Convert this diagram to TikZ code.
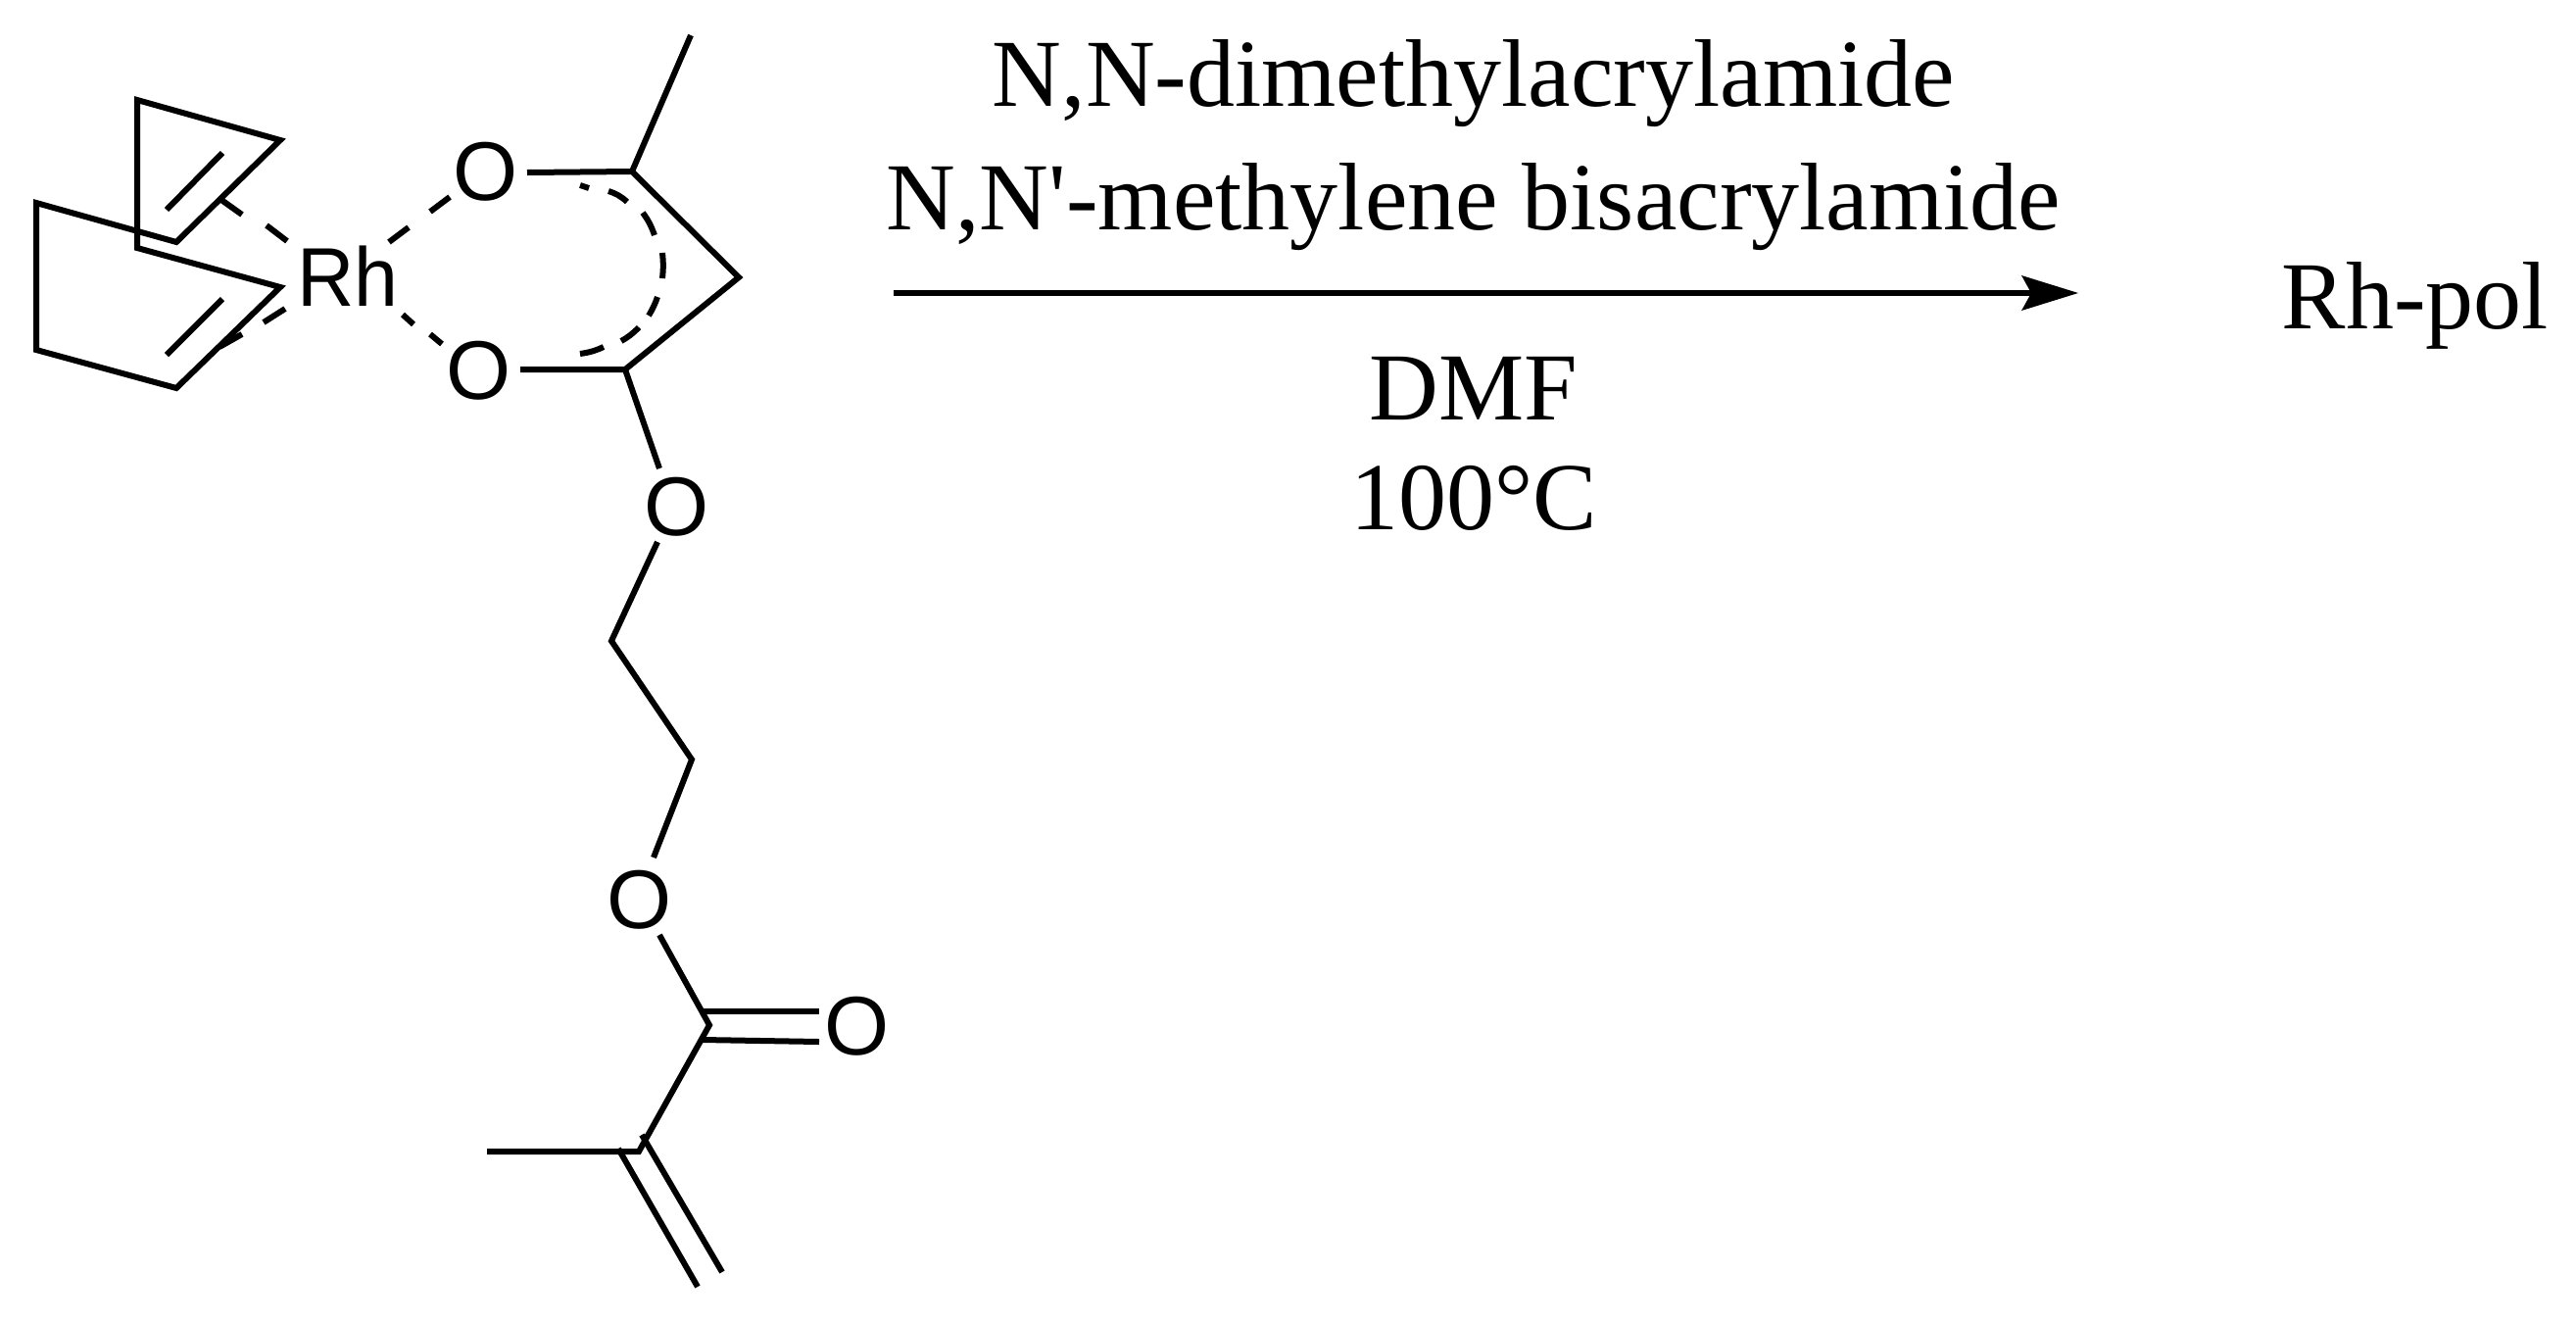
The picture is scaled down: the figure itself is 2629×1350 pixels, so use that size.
\documentclass[tikz,border=0pt]{standalone}
\usepackage{fontspec}
\setmainfont{Liberation Serif}
\newfontfamily\plainserif{Liberation Serif}
\newfontfamily\atomfont{Liberation Sans}
\tikzset{
  x=1pt,y=-1pt,
  bond/.style={line width=6pt,line cap=butt,line join=miter},
  atom/.style={inner sep=0pt,outer sep=0pt,font=\atomfont\fontsize{85}{85}\selectfont},
  label/.style={inner sep=0pt,outer sep=0pt,anchor=base,font=\fontsize{98}{98}\selectfont},
}
\begin{document}
\begin{tikzpicture}
\useasboundingbox (0,0) rectangle (2629,1350);
% atoms
\node[atom,xscale=.95] (Rh) at (355,282) {Rh};
\node[atom] (O1) at (496,175) {O};
\node[atom] (O2) at (489,378) {O};
\node[atom] (O3) at (691,517) {O};
\node[atom] (O4) at (653,918) {O};
\node[atom] (O5) at (875,1047) {O};
% labels
\node[label] (t1) at (1504,108) {N,N-dimethylacrylamide};
\node[label] (t2) at (1504,234) {{\plainserif N,N'-methylene bisacrylamide}};
\node[label] (t3) at (1504,428) {DMF};
\node[label] (t4) at (1504,540) {100°C};
\node[label] (t5) at (2465,335) {Rh-pol};
% rings
\coordinate (a1) at (140,102); \coordinate (a2) at (286,143); \coordinate (a3) at (180,247);
\coordinate (a4) at (37,207); \coordinate (a5) at (37,357); \coordinate (a6) at (180,396);
\coordinate (a7) at (286,293); \coordinate (a8) at (140,253);
\draw[bond] (a1)--(a2)--(a3)--(a4)--(a5)--(a6)--(a7)--(a8)--cycle;
\draw[bond] (227,156)--(170,214);
\draw[bond] (227,305)--(170,362);
% dashed metal bonds
\draw[bond] (226,204)--(247,219) (272,230)--(293,246);
\draw[bond] (291,315)--(269,329) (247,341)--(224,354);
\draw[bond] (459,201)--(439,216) (417,232)--(397,247);
\draw[bond] (411,321)--(422,331) (439,341)--(451,351);
% acac
\coordinate (c1) at (645,175); \coordinate (c2) at (754,283); \coordinate (c3) at (638,377);
\coordinate (me) at (705,36);
\coordinate (o1b) at (538,176); \coordinate (o2b) at (531,377); \coordinate (o3b) at (673,478);
\draw[bond] (o1b)--(c1)--(c2)--(c3)--(o2b);
\draw[bond] (c1)--(me);
\draw[bond] (c3)--(o3b);
% delocalised arc
\draw[bond] (592,189)--(601,192);
\draw[bond] (621,195) to[bend left=12] (640,206);
\draw[bond] (656,217) to[bend left=8] (668,240);
\draw[bond] (676,258) to[bend left=6] (676,284);
\draw[bond] (671,303) to[bend left=6] (662,322);
\draw[bond] (652,334) to[bend left=8] (634,348);
\draw[bond] (616,354) to[bend left=8] (592,361);
% chain
\coordinate (d0) at (671,553); \coordinate (d1) at (624,654); \coordinate (d2) at (706,775); \coordinate (d3) at (667,875);
\draw[bond] (d0)--(d1)--(d2)--(d3);
\coordinate (e0) at (673,954); \coordinate (c4) at (724,1046); \coordinate (c5) at (652,1175); \coordinate (m2) at (497,1175);
\draw[bond] (e0)--(c4)--(c5)--(m2);
\draw[bond] (717,1032)--(836,1032);
\draw[bond] (717,1061)--(836,1063);
\draw[bond] (631,1172)--(712,1313);
\draw[bond] (655,1158)--(737,1298);
% arrow
\coordinate (p) at (912,299); \coordinate (q) at (2121,299);
\draw[line width=6pt] (p)--(2075,299);
\fill (q)--(2063,281)--(2073,299)--(2063,317)--cycle;
\end{tikzpicture}
\end{document}
